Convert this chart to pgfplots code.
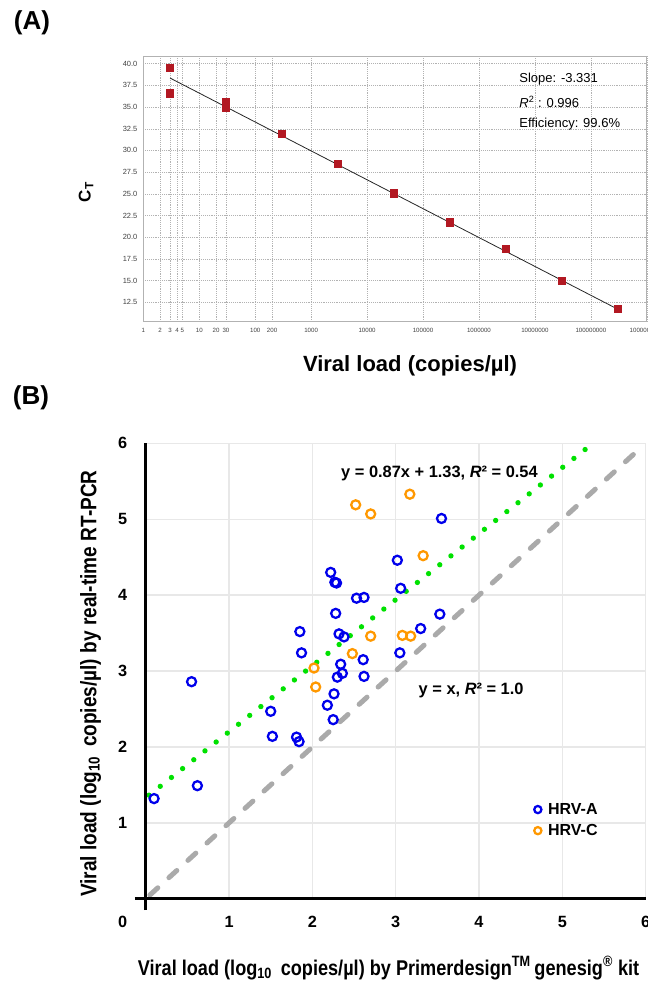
\documentclass[border=0pt]{standalone}
\usepackage{fontspec}
\setmainfont{Liberation Sans}
\newfontfamily\narrowsf[FakeStretch=0.85]{Liberation Sans}
\usepackage{pgfplots}
\pgfplotsset{compat=1.18}

\definecolor{ctred}{RGB}{178,24,34}
\definecolor{hrva}{RGB}{0,0,235}
\definecolor{hrvc}{RGB}{255,152,0}
\definecolor{fitgreen}{RGB}{0,225,0}
\definecolor{idgray}{RGB}{170,170,170}
\definecolor{gridB}{RGB}{232,232,232}

\begin{document}
\begin{tikzpicture}
\useasboundingbox (0,0) rectangle (486pt,743.25pt);

% ---------------- panel A: standard curve
\begin{axis}[
    at={(107.5pt,502pt)}, anchor=south west,
    scale only axis, width=377.6pt, height=199.3pt,
    xmode=log, log basis x=10,
    xmin=1, xmax=1e9, ymin=10.25, ymax=40.9,
    xtick={1,10,100,1000,10000,100000,1000000,10000000,100000000,1000000000},
    xticklabels={1,10,100,1000,10000,100000,1000000,10000000,100000000,1000000000},
    extra x ticks={2,3,4,5,20,30,200},
    extra x tick labels={2,3,4,5,20,30,200},
    ytick={12.5,15,17.5,20,22.5,25,27.5,30,32.5,35,37.5,40},
    yticklabel style={/pgf/number format/fixed, /pgf/number format/fixed zerofill,
        /pgf/number format/precision=1, /pgf/number format/assume math mode=true},
    xticklabel style={font=\fontsize{4.6}{5}\selectfont, text=black!75, yshift=-1.5pt},
    yticklabel style={font=\fontsize{5.6}{6}\selectfont, text=black!75, xshift=-1pt},
    grid=both,
    major grid style={densely dotted, black!30, line width=0.35pt},
    minor grid style={densely dotted, black!22, line width=0.3pt},
    axis line style={black!30, line width=0.5pt},
    major tick length=0pt, minor tick length=0pt,
]
\addplot[black!85, line width=0.6pt] coordinates {(3,38.35) (300000000,11.7)};
\addplot[only marks, mark=square*, mark size=2.7pt, ctred] coordinates {
(3,39.5) (3,36.6) (30,35.65) (30,34.96) (300,31.88) (3000,28.42)
(30000,25.07) (300000,21.72) (3000000,18.64) (30000000,14.94) (300000000,11.7)
};
\end{axis}

\node[anchor=west, font=\fontsize{9.75}{11}\selectfont] at (386pt,683.8pt) {Slope: -3.331};
\node[anchor=west, font=\fontsize{9.75}{11}\selectfont] at (386pt,667pt) {\textit{R}\textsuperscript{2} : 0.996};
\node[anchor=west, font=\fontsize{9.75}{11}\selectfont] at (386pt,650pt) {Efficiency: 99.6\%};

\node[font=\fontsize{19.5}{22}\selectfont\bfseries] at (24pt,726.4pt) {(A)};
\node[font=\fontsize{12.75}{14}\selectfont\bfseries, rotate=90] at (64.5pt,599.25pt) {C\textsubscript{T}};
\node[font=\fontsize{16.5}{18}\selectfont\bfseries] at (307.5pt,468.75pt) {Viral load (copies/µl)};
\node[font=\fontsize{19.5}{22}\selectfont\bfseries] at (23.25pt,444.75pt) {(B)};

% ---------------- panel B: method comparison
\begin{axis}[
    at={(109.3pt,69.15pt)}, anchor=south west,
    scale only axis, width=374.9pt, height=341.6pt,
    xmin=0, xmax=6, ymin=0, ymax=6,
    xtick={1,2,3,4,5,6}, ytick={1,2,3,4,5,6},
    axis line style={draw=none},
    major tick length=0pt,
    grid=major, grid style={gridB, line width=1.1pt},
    clip=false,
    ticklabel style={font=\fontsize{12.2}{14}\selectfont\bfseries, /pgf/number format/assume math mode=true},
    xticklabel style={anchor=center, yshift=-17.4pt},
    yticklabel style={anchor=center, xshift=-17.3pt},
    legend style={at={(axis cs:4.66,1.3)}, anchor=north west, draw=none, fill=none,
        font=\fontsize{12}{14}\selectfont\bfseries, row sep=2pt, column sep=3pt, inner sep=0pt},
    legend image post style={mark size=2.7pt},
    legend cell align=left,
]
\addplot[idgray, line width=3.75pt, line cap=round, dash pattern=on 8pt off 11.3pt, forget plot]
    coordinates {(0.05,0.05) (5.9,5.9)};
\addplot[fitgreen, line width=4pt, line cap=round, dash pattern=on 0pt off 10.7pt, forget plot]
    coordinates {(0.04,1.365) (5.31,5.95)};
\addplot[only marks, mark=o, mark size=3.4pt, hrva, line width=1.7pt] coordinates {
(0.10,1.32) (0.62,1.49) (0.55,2.86) (1.50,2.47) (1.52,2.14) (1.81,2.13) (1.84,2.07)
(1.85,3.52) (1.87,3.24) (2.18,2.55) (2.25,2.36) (2.26,2.70) (2.30,2.92) (2.36,2.97)
(2.34,3.09) (2.28,3.76) (2.32,3.49) (2.38,3.45) (2.22,4.30) (2.27,4.17) (2.29,4.16)
(2.53,3.96) (2.62,3.97) (2.61,3.15) (2.62,2.93) (3.02,4.46) (3.06,4.09) (3.05,3.24)
(3.30,3.56) (3.53,3.75) (3.55,5.01)
};
\addlegendentry{HRV-A}
\addplot[only marks, mark=o, mark size=3.4pt, hrvc, line width=1.7pt] coordinates {
(2.52,5.19) (2.70,5.07) (3.17,5.33) (3.33,4.52) (2.70,3.46) (3.08,3.47) (3.18,3.46)
(2.48,3.23) (2.02,3.04) (2.04,2.79)
};
\addlegendentry{HRV-C}
\draw[black, line width=2.25pt] (axis cs:-0.13,0) -- (axis cs:6,0);
\draw[black, line width=2.25pt] (axis cs:0,-0.15) -- (axis cs:0,6);
\node[font=\fontsize{12.2}{14}\selectfont\bfseries] at (axis cs:-0.276,-0.302) {0};
\node[anchor=west, font=\fontsize{12.3}{14}\selectfont\bfseries] at (axis cs:2.29,5.60)
    {y = 0.87x + 1.33, \textit{R}² = 0.54};
\node[anchor=west, font=\fontsize{12.3}{14}\selectfont\bfseries] at (axis cs:3.22,2.75)
    {y = x, \textit{R}² = 1.0};
\end{axis}

\node[font=\fontsize{16}{18}\selectfont\narrowsf\bfseries] at (291.4pt,17.25pt)
    {Viral load (log\textsubscript{10}\, copies/µl) by Primerdesign\textsuperscript{TM}\,genesig\textsuperscript{®} kit};
\node[font=\fontsize{16.8}{18}\selectfont\narrowsf\bfseries, rotate=90] at (67.9pt,230.5pt)
    {Viral load (log\textsubscript{10}\, copies/µl) by real-time RT-PCR};
\end{tikzpicture}
\end{document}
